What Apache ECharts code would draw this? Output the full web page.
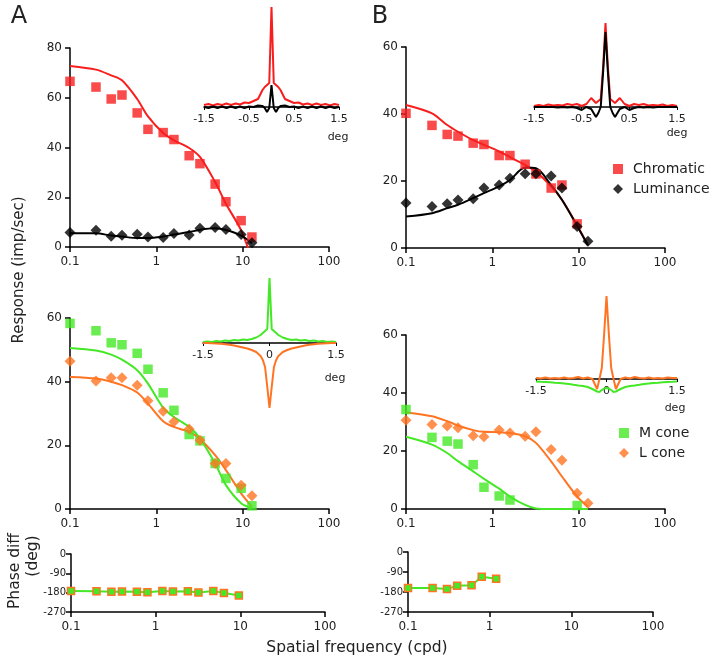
<!DOCTYPE html>
<html><head><meta charset="utf-8">
<script src="https://cdn.jsdelivr.net/npm/echarts@6/dist/echarts.min.js"></script>
<style>html,body{margin:0;padding:0;background:#fff}#c{width:714px;height:664px}</style>
</head><body><div id="c"></div>
<script>
// ---------- data ----------
const freqs = [0.1,0.2,0.3,0.4,0.6,0.8,1.2,1.6,2.4,3.2,4.8,6.4,9.6,12.8];

// Panel A top
const aChromPts = [66.6,64.3,59.5,61.1,53.9,47.3,46.0,43.2,36.7,33.5,25.3,18.2,10.6,4.0];
const aLumPts   = [5.8,6.7,4.3,4.7,5.1,4.0,3.8,5.4,4.8,7.5,7.8,7.0,5.0,1.7];
const aChromFit = [72.8,71.3,69.0,67.0,59.5,52.5,45.8,42.9,39.8,36.2,26.1,17.4,6.7,-5];
const aLumFit   = [5.5,5.5,4.6,4.2,3.6,3.6,4.2,5.0,6.0,6.9,7.5,6.8,4.6,1.5];

// Panel B top
const bChromPts = [40.2,36.6,33.9,33.4,31.3,30.9,27.6,27.6,25.0,22.1,17.9,18.8,7.2,null];
const bLumPts   = [13.4,12.4,13.2,14.3,14.7,17.9,18.8,20.8,22.2,22.2,21.5,17.9,6.4,2.0];
const bChromFit = [42.7,40.2,36.7,34.7,32.2,30.8,28.8,27.1,24.8,22.8,18.4,14.4,6.8,0.8];
const bLumFit   = [9.4,10.4,11.9,12.9,14.9,16.4,18.4,20.3,24.0,23.8,18.8,14.4,6.6,0.8];

// Panel A middle
const aMPts = [58.3,56.0,52.2,51.6,48.9,43.9,36.5,31.0,23.4,21.4,14.3,9.6,6.5,1.0];
const aLPts = [46.4,40.2,41.2,41.2,38.9,34.0,30.7,27.4,25.1,21.6,14.3,14.3,7.5,4.2];
const aMFit = [50.6,49.8,48.5,46.9,43.6,39.4,31.8,28.9,25.8,22.2,14.3,7.5,1.8,0.2];
const aLFit = [41.5,41.0,40.0,38.9,36.6,33.1,27.6,25.8,24.2,22.0,16.9,12.2,4.9,0.7];

// Panel B middle
const bMPts = [34.3,24.7,23.4,22.4,15.3,7.5,4.5,3.1,null,null,null,null,1.2,null];
const bLPts = [30.6,29.1,28.6,28.0,25.3,24.9,27.2,26.2,25.1,26.6,20.5,16.8,5.4,2.0];
const bMFit = [24.9,22.2,19.3,16.5,13.0,10.4,7.0,4.3,1.4,0.2,0,0,0,0];
const bLFit = [33.4,32.0,30.3,28.8,27.2,26.6,26.5,26.2,25.1,22.8,16.4,11.2,4.3,0.8];

// Phase panels
const aPhase = [-172,-173,-176,-175,-176,-178,-172,-175,-173,-179,-172,-181,-193];
const bPhase = [-162,-162,-167,-152,-150,-111,-120];

// Insets (deg positions, relative amplitudes)
const insetX = [-1.5,-1.4,-1.3,-1.2,-1.1,-1.0,-0.9,-0.8,-0.7,-0.6,-0.5,-0.4,-0.3,-0.2,-0.15,-0.1,-0.05,0,0.05,0.1,0.15,0.2,0.3,0.4,0.5,0.6,0.7,0.8,0.9,1.0,1.1,1.2,1.3,1.4,1.5];
const insARed   = [2,3,1.5,3,2,3.5,2,3.5,2.5,4.5,4,6,8,17,20,22,24,100,24,22,20,17,8,6,4,4.5,2.5,3.5,2,3.5,2,3,1.5,3,2];
const insABlack = [0,-1,0.5,-1,0.5,-1,0.5,-1,0.5,-1,0.5,0,1.5,1,-1,-5,-1,22,-1,-5,-1,1,1.5,0,0.5,-1,0.5,-1,0.5,-1,0.5,-1,0.5,-1,0];
const insBRed   = [1,2,1,2.5,1.5,2,1.5,3,2,3,1,3,9,4,6,8,40,84,40,8,6,4,9,3,1,3,2,3,1.5,2,1.5,2.5,1,2,1];
const insBBlack = [0,0,0,0,0,-0.5,0,-0.5,0,-1,-3,0,-2,-10,-6,0,35,75,35,0,-6,-10,-2,0,-3,-1,0,-0.5,0,-0.5,0,0,0,0,0];
const insAMGreen  = [1,1.5,1,2,1.5,2.5,2,3,2.5,3.5,3,4,5.5,8,10,12,14,65,14,12,10,8,5.5,4,3,3.5,2.5,3,2,2.5,1.5,2,1,1.5,1];
const insAMOrange = [0,0,-0.3,-0.5,-0.8,-1.2,-1.8,-2.5,-3.5,-4.5,-5.5,-7,-9,-13,-17,-24,-44,-65,-44,-24,-17,-13,-9,-7,-5.5,-4.5,-3.5,-2.5,-1.8,-1.2,-0.8,-0.5,-0.3,0,0];
const insBMOrange = [1,0.5,1.5,0.5,1,0.5,1.5,0.5,1,2,0.5,1.5,0,-10,0,11,45,83,45,11,0,-10,0,1.5,0.5,2,1,0.5,1.5,0.5,1,0.5,1.5,1,1];
const insBMGreen  = [-2.5,-2.8,-3,-3.3,-3.7,-4,-4.5,-5,-5.8,-6.5,-7,-8,-10,-12.5,-13,-11,-9.5,-9,-9.5,-11,-13,-12.5,-10,-8,-7,-6.5,-5.8,-5,-4.5,-4,-3.7,-3.3,-3,-2.8,-2.5];

// ---------- style ----------
const FONT = 'DejaVu Sans';
const RED = '#F81E1E', BLACK = '#000000', GREEN = '#44E826', ORANGE = '#FF7422', TXT = '#222222';

function pts(xs, ys){ const out=[]; xs.forEach((x,i)=>{ if(ys[i]!==null && ys[i]!==undefined) out.push([x, ys[i]]); }); return out; }

const grids = [
  {left:70, top:48, width:259, height:199},   // 0 A top
  {left:406, top:47, width:259, height:201},  // 1 B top
  {left:70, top:318, width:259, height:191},  // 2 A mid
  {left:406, top:335, width:259, height:174}, // 3 B mid
  {left:71, top:554, width:254, height:58},   // 4 A phase
  {left:408, top:552, width:245, height:60},  // 5 B phase
  {left:204, top:7, width:135, height:111},   // 6 A top inset
  {left:534, top:23, width:143, height:100},  // 7 B top inset
  {left:203, top:278, width:133, height:130}, // 8 A mid inset
  {left:536, top:296, width:141, height:98}   // 9 B mid inset
].map(g => Object.assign({containLabel:false, outerBoundsMode:'none'}, g));

function mainX(gi){
  return {type:'log', logBase:10, gridIndex:gi, min:0.1, max:100,
    axisLine:{onZero:false, lineStyle:{color:BLACK, width:1.5}},
    axisTick:{length:5, lineStyle:{color:BLACK, width:1.5}},
    axisLabel:{fontSize:12, color:TXT, margin:9, fontFamily:FONT,
      formatter: v => v < 1 ? v.toFixed(1) : String(Math.round(v))},
    splitLine:{show:false}, minorTick:{show:false}};
}
function mainY(gi, min, max, interval, fs, margin){
  return {type:'value', gridIndex:gi, min:min, max:max, interval:interval,
    axisLine:{show:true, onZero:false, lineStyle:{color:BLACK, width:1.5}},
    axisTick:{show:true, length:5, lineStyle:{color:BLACK, width:1.5}},
    axisLabel:{fontSize:fs, color:TXT, margin:margin, fontFamily:FONT},
    splitLine:{show:false}};
}
// inset x axis sits on the zero line: offset (negative) lifts it from the grid bottom
function insetXAxis(gi, labels, lift){
  return {type:'value', gridIndex:gi, min:-1.5, max:1.5, position:'bottom', offset:-lift,
    axisLine:{onZero:false, lineStyle:{color:BLACK, width:1.5}},
    axisTick:{show:true, length:3, customValues:labels, lineStyle:{color:BLACK}},
    axisLabel:{fontSize:11, color:TXT, margin:7, fontFamily:FONT, customValues:labels},
    splitLine:{show:false}, z:0};
}
function insetYAxis(gi, min, max){
  return {type:'value', gridIndex:gi, min:min, max:max, show:false,
    axisLine:{show:false, onZero:false}, splitLine:{show:false}};
}

const xAxes = [mainX(0), mainX(1), mainX(2), mainX(3), mainX(4), mainX(5),
  insetXAxis(6, [-1.5,-0.5,0.5,1.5], 11), insetXAxis(7, [-1.5,-0.5,0.5,1.5], 16),
  insetXAxis(8, [-1.5,0,1.5], 65), insetXAxis(9, [-1.5,0,1.5], 15)];
const yAxes = [mainY(0,0,80,20,12,8), mainY(1,0,60,20,12,8), mainY(2,0,60,20,12,8), mainY(3,0,60,20,12,8),
  mainY(4,-270,0,90,10,5), mainY(5,-270,0,90,10,5),
  insetYAxis(6,-11,100), insetYAxis(7,-16,84), insetYAxis(8,-65,65), insetYAxis(9,-15,83)];

function fit(i, ys, color){
  return {type:'line', xAxisIndex:i, yAxisIndex:i, data:pts(freqs, ys), showSymbol:false, smooth:0.3,
    lineStyle:{color:color, width:2}, itemStyle:{color:color}, z:2, silent:true};
}
function dots(i, name, ys, color, shape){
  return {type:'scatter', name:name, xAxisIndex:i, yAxisIndex:i, data:pts(freqs, ys),
    symbol:shape, symbolSize: shape==='rect' ? 9.5 : 11, itemStyle:{color:color}, z:3};
}
function insetLine(i, ys, color){
  return {type:'line', xAxisIndex:i, yAxisIndex:i, data:pts(insetX, ys), showSymbol:false,
    lineStyle:{color:color, width:2}, itemStyle:{color:color}, z:2, silent:true};
}
function phase(i, ys){
  return {type:'line', xAxisIndex:i, yAxisIndex:i, data:pts(freqs.slice(0, ys.length), ys),
    symbol:'rect', symbolSize:7, showAllSymbol:true,
    lineStyle:{color:GREEN, width:2}, itemStyle:{color:GREEN, borderColor:ORANGE, borderWidth:1.5}, z:3};
}

const series = [
  fit(0, aChromFit, RED), fit(0, aLumFit, BLACK),
  dots(0, 'Chromatic', aChromPts, RED, 'rect'), dots(0, 'Luminance', aLumPts, BLACK, 'diamond'),
  fit(1, bChromFit, RED), fit(1, bLumFit, BLACK),
  dots(1, 'Chromatic', bChromPts, RED, 'rect'), dots(1, 'Luminance', bLumPts, BLACK, 'diamond'),
  fit(2, aMFit, GREEN), fit(2, aLFit, ORANGE),
  dots(2, 'M cone', aMPts, GREEN, 'rect'), dots(2, 'L cone', aLPts, ORANGE, 'diamond'),
  fit(3, bMFit, GREEN), fit(3, bLFit, ORANGE),
  dots(3, 'M cone', bMPts, GREEN, 'rect'), dots(3, 'L cone', bLPts, ORANGE, 'diamond'),
  phase(4, aPhase), phase(5, bPhase),
  insetLine(6, insARed, RED), insetLine(6, insABlack, BLACK),
  insetLine(7, insBRed, RED), insetLine(7, insBBlack, BLACK),
  insetLine(8, insAMGreen, GREEN), insetLine(8, insAMOrange, ORANGE),
  insetLine(9, insBMGreen, GREEN), insetLine(9, insBMOrange, ORANGE)
];

function txt(text, x, y, size, rot){
  return {type:'text', x:x, y:y, rotation: rot || 0, silent:true,
    style:{text:text, fontSize:size, fontFamily:FONT, fill:TXT, align:'center', verticalAlign:'middle'}};
}

const legendCommon = {orient:'vertical', itemWidth:10, itemHeight:10, itemGap:6, selectedMode:false,
  textStyle:{fontSize:14, color:TXT, fontFamily:FONT, padding:[0,0,0,5]}};

const option = {
  animation:false,
  backgroundColor:'#ffffff',
  textStyle:{fontFamily:FONT},
  grid: grids,
  xAxis: xAxes,
  yAxis: yAxes,
  legend: [
    Object.assign({data:[{name:'Chromatic', icon:'rect'}, {name:'Luminance', icon:'diamond'}], left:608, top:157}, legendCommon),
    Object.assign({data:[{name:'M cone', icon:'rect'}, {name:'L cone', icon:'diamond'}], left:614, top:421}, legendCommon)
  ],
  series: series,
  graphic: [
    txt('A', 19, 17, 24), txt('B', 380, 17, 24),
    txt('Response (imp/sec)', 19, 270, 15, Math.PI/2),
    txt('Phase diff', 15, 571, 15.5, Math.PI/2),
    txt('(deg)', 33, 556, 15.5, Math.PI/2),
    txt('Spatial frequency (cpd)', 357, 648, 15.5),
    txt('deg', 338, 137, 11), txt('deg', 677, 133, 11),
    txt('deg', 335, 378, 11), txt('deg', 675, 408, 11)
  ]
};
const chart = echarts.init(document.getElementById('c'), null, {renderer:'canvas'});
chart.setOption(option);
</script>
</body></html>
